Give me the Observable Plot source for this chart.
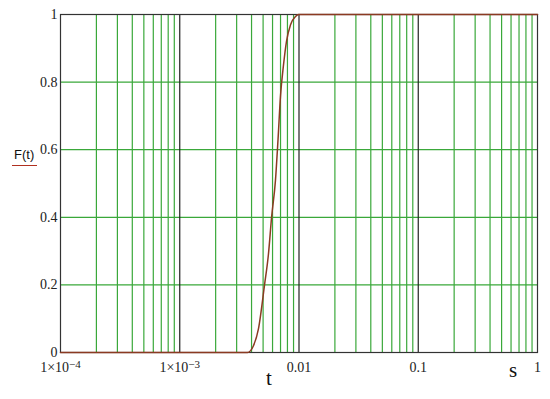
<!DOCTYPE html>
<html>
<head>
<meta charset="utf-8">
<script src="https://cdn.jsdelivr.net/npm/d3@7"></script>
<script src="https://cdn.jsdelivr.net/npm/@observablehq/plot@0.6"></script>
<style>
  body { margin: 0; background: #fff; }
  #wrap { position: relative; width: 550px; height: 399px; }
  .lbl { position: absolute; font-family: "Liberation Serif", "Times New Roman", Tinos, "DejaVu Serif", serif; color: #111; }
  #ft { left: 12px; top: 147px; font-family: "Liberation Sans", Arial, sans-serif; font-size: 13px; border-bottom: 1.5px solid #b03020; padding: 0 3px 3px 2px; }
  #tl { left: 266px; top: 366px; font-size: 21px; }
  #sl { left: 509px; top: 358px; font-size: 21px; }
  #chart svg text { font-family: "Liberation Serif", "Times New Roman", Tinos, "DejaVu Serif", serif; }
</style>
</head>
<body>
<div id="wrap">
  <div id="chart"></div>
  <div class="lbl" id="ft">F(t)</div>
  <div class="lbl" id="tl">t</div>
  <div class="lbl" id="sl">s</div>
</div>
<script>
// CDF curve
const tValues = [0.0001, 0.0037, 0.00415, 0.00457, 0.00514, 0.00554, 0.00589, 0.00635, 0.00667, 0.0070, 0.00741, 0.00785, 0.00849, 0.00935, 0.0099, 1];
const fValues = [0, 0, 0.02, 0.07, 0.2, 0.29, 0.40, 0.51, 0.63, 0.76, 0.85, 0.92, 0.97, 0.994, 1, 1];

const xTicks = [1e-4, 1e-3, 1e-2, 1e-1, 1];
const xTickBase = ["1×10", "1×10", "0.01", "0.1", "1"];
const xTickExp = ["−4", "−3", "", "", ""];
const yTicks = [0, 0.2, 0.4, 0.6, 0.8, 1];
const yTickLabels = ["0", "0.2", "0.4", "0.6", "0.8", "1"];
const decadeLines = [1e-3, 1e-2, 1e-1];
const hGrid = [0.2, 0.4, 0.6, 0.8];
const minorMultipliers = [2, 3, 4, 5, 6, 7, 8, 9];

const minorLines = [];
for (const d of [1e-4, 1e-3, 1e-2, 1e-1]) for (const m of minorMultipliers) minorLines.push(d * m);

const data = tValues.map((t, i) => ({t, f: fValues[i]}));

const green = "#3aa83a";
const chart = Plot.plot({
  width: 550,
  height: 399,
  marginTop: 14,
  marginRight: 13,
  marginBottom: 47,
  marginLeft: 60,
  style: {background: "white"},
  x: {type: "log", domain: [1e-4, 1]},
  y: {domain: [0, 1]},
  marks: [
    Plot.ruleX(minorLines, {stroke: green, strokeWidth: 1.2}),
    Plot.ruleY(hGrid, {stroke: green, strokeWidth: 1.2}),
    Plot.ruleX(decadeLines, {stroke: "#222", strokeWidth: 1.2}),
    Plot.frame({stroke: "#333", strokeWidth: 1.2}),
    Plot.line(data, {x: "t", y: "f", stroke: "#8b3a22", strokeWidth: 1.5, curve: "monotone-x"}),
    Plot.axisY({ticks: yTicks, tickFormat: (d) => yTickLabels[yTicks.indexOf(d)], tickSize: 0, tickPadding: 3, fontSize: 14, label: null, fill: "#222"}),
    Plot.axisX({ticks: xTicks, tickFormat: (d) => xTickBase[xTicks.indexOf(d)] + "|" + xTickExp[xTicks.indexOf(d)], tickSize: 0, tickPadding: 10, fontSize: 14, label: null, fill: "#222"})
  ]
});
// render exponents as superscript tspans
chart.querySelectorAll("text").forEach((el) => {
  const s = el.textContent;
  if (s.includes("|")) {
    const [base, exp] = s.split("|");
    el.textContent = base;
    if (exp) {
      const ts = document.createElementNS("http://www.w3.org/2000/svg", "tspan");
      ts.setAttribute("dy", "-0.45em");
      ts.setAttribute("font-size", "11");
      ts.textContent = exp;
      el.appendChild(ts);
    }
  }
});
document.getElementById("chart").appendChild(chart);
</script>
</body>
</html>
